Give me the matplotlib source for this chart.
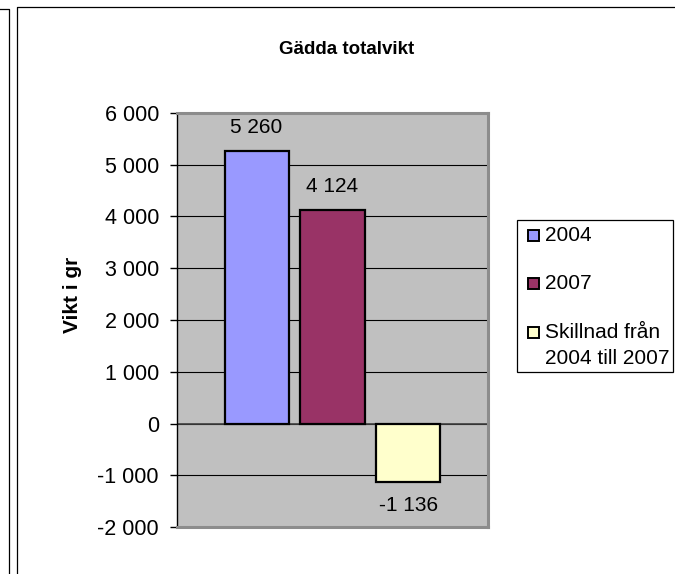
import matplotlib
matplotlib.use("Agg")
import matplotlib.pyplot as plt
from matplotlib.lines import Line2D
from matplotlib.patches import Rectangle
from matplotlib.ticker import FuncFormatter, MultipleLocator

plt.rcParams['font.family'] = ['Liberation Sans', 'DejaVu Sans']

title = "Gädda totalvikt"
ylabel = "Vikt i gr"
series_labels = ["2004", "2007", "Skillnad från\n2004 till 2007"]
series_values = [5260, 4124, -1136]
series_colors = ["#9999FF", "#993366", "#FFFFCC"]
y_min, y_max, y_step = -2000, 6000, 1000


def fmt_num(v):
    return f"{int(round(v)):,}".replace(",", " ")


W, H = 675, 574
fig = plt.figure(figsize=(W / 100, H / 100), dpi=100)


def fx(x):
    return x / W


def fy(y):
    return 1 - y / H


# chart frames (neighbouring chart edge on the left and this chart's border)
def px_line(xs, ys, **kw):
    fig.add_artist(Line2D([fx(x) for x in xs], [fy(y) for y in ys],
                          transform=fig.transFigure, **kw))

px_line([0, 8.5, 8.5], [8.5, 8.5, H], color="black", lw=0.9)
px_line([16.5, 16.5, W], [H, 6.5, 6.5], color="black", lw=0.9)

left, right, top, bottom = 177, 488, 113, 527
ax = fig.add_axes([fx(left), fy(bottom), (right - left) / W, (bottom - top) / H])
ax.set_facecolor("#C0C0C0")

offsets = [-0.244, 0.0, 0.244]
bar_w = 0.206
for x, v, c in zip(offsets, series_values, series_colors):
    ax.bar(x, v, width=bar_w, color=c, edgecolor="black", linewidth=1.6, zorder=3)
    off = 17 if v >= 0 else -17
    ax.annotate(fmt_num(v), (x, v), xytext=(0, off), textcoords="offset points",
                ha="center", va="center", fontsize=15, color="black", zorder=4)

ax.set_xlim(-0.5, 0.5)
ax.set_ylim(y_min, y_max)
ax.yaxis.set_major_locator(MultipleLocator(y_step))
ax.yaxis.set_major_formatter(FuncFormatter(lambda v, p: fmt_num(v)))
ax.set_xticks([])
ax.grid(axis="y", color="black", linewidth=0.8, zorder=1)
ax.set_axisbelow(True)
ax.axhline(0, color="#404040", linewidth=1.2, zorder=2)

ax.tick_params(axis="y", direction="out", length=5, width=1, pad=8,
               labelsize=15.5, colors="black")
for s in ["top", "right", "bottom"]:
    ax.spines[s].set_color("#8C8C8C")
    ax.spines[s].set_linewidth(2.2)
ax.spines["left"].set_color("black")
ax.spines["left"].set_linewidth(1)

fig.text(fx(347), fy(50), title, ha="center", va="center",
         fontsize=13.5, fontweight="bold")
fig.text(fx(72), fy(295), ylabel, ha="center", va="center",
         rotation=90, fontsize=15, fontweight="bold")

# legend box drawn in figure pixel coordinates
fig.add_artist(Rectangle((fx(516.5), fy(371.5)), (673 - 516.5) / W, (371.5 - 219.5) / H,
                         transform=fig.transFigure, facecolor="white",
                         edgecolor="black", linewidth=0.9))
entry_y = [235, 283, 332]
for y, lab, c in zip(entry_y, series_labels, series_colors):
    fig.add_artist(Rectangle((fx(528), fy(y + 5.5)), 11 / W, 11 / H,
                             transform=fig.transFigure, facecolor=c,
                             edgecolor="black", linewidth=1.4))
    lines = lab.split("\n")
    for i, line in enumerate(lines):
        fig.text(fx(545), fy(y + i * 26), line, ha="left", va="center",
                 fontsize=15, color="black")

fig.savefig("out.png", dpi=100, facecolor="white")
